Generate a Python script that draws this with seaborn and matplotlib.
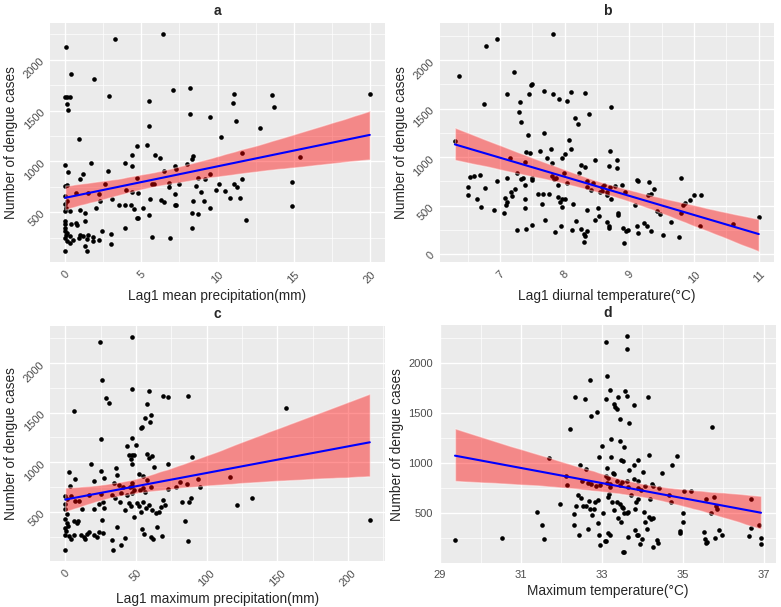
import matplotlib
matplotlib.use("Agg")
import matplotlib.pyplot as plt
import seaborn as sns
from matplotlib.ticker import AutoMinorLocator

# panel a: lag1 mean precipitation vs cases
a_x = [0.07, 3.3, 6.4, 0.4, 1.9, 0.0, 0.15, 0.3, 0.1, 0.2,
       2.9, 7.1, 8.2, 5.5, 8.2, 5.5, 9.5, 11.1, 11.0, 11.2,
       13.6, 13.7, 12.8, 20.0, 0.9, 10.2, 4.7, 5.4, 4.4, 5.9,
       6.2, 8.4, 8.3, 1.7, 0.0, 3.9, 8.0, 4.4, 11.6, 15.4,
       7.2, 7.3, 2.8, 0.2, 6.5, 1.2, 1.0, 4.7, 8.7, 9.5,
       9.2, 14.9, 0.1, 0.0, 2.6, 1.5, 2.2, 0.7, 6.8, 5.7,
       5.8, 6.8, 7.5, 8.6, 10.1, 11.1, 11.3, 11.6, 10.5, 8.9,
       9.9, 4.0, 4.4, 4.8, 7.2, 5.6, 6.3, 6.5, 8.4, 9.1,
       10.8, 11.5, 0.0, 0.1, 0.0, 0.07, 0.0, 0.3, 3.1, 2.3,
       3.5, 3.9, 4.3, 4.5, 5.1, 7.2, 7.3, 2.0, 1.0, 1.3,
       9.5, 8.3, 8.7, 4.7, 4.8, 5.5, 14.9, 11.9, 1.3, 0.4,
       0.7, 0.8, 3.9, 8.3, 0.0, 0.0, 0.0, 0.0, 0.07, 0.0,
       0.1, 0.15, 0.3, 1.0, 1.2, 1.4, 0.9, 1.5, 1.8, 2.4,
       3.0, 2.2, 1.8, 3.0, 1.3, 1.4, 0.0, 5.7, 6.9, 0.5, 0.3]
a_y = [2130, 2200, 2254, 1858, 1815, 1634, 1634, 1634, 1560, 1508,
       1643, 1706, 1726, 1590, 1462, 1350, 1435, 1660, 1574, 1396,
       1650, 1535, 1333, 1660, 1221, 1238, 1155, 1165, 1066, 1066,
       1033, 1056, 1023, 983, 964, 980, 974, 957, 1079, 1046,
       950, 930, 907, 891, 901, 874, 825, 835, 841, 874,
       831, 799, 769, 759, 775, 693, 676, 693, 792, 775,
       775, 749, 775, 759, 775, 775, 749, 828, 709, 700,
       719, 719, 703, 693, 676, 627, 617, 604, 610, 610,
       643, 637, 660, 610, 577, 545, 512, 512, 627, 610,
       571, 571, 571, 528, 545, 571, 571, 545, 518, 495,
       538, 488, 479, 445, 445, 472, 561, 419, 412, 386,
       396, 373, 340, 346, 412, 380, 346, 314, 280, 247,
       214, 297, 264, 280, 264, 241, 247, 280, 254, 314,
       290, 231, 214, 191, 165, 115, 115, 254, 247, 231, 198]

# panel b: lag1 diurnal temperature vs cases
b_x = [6.95, 6.78, 7.82, 6.37, 7.22, 6.75, 7.10, 7.31, 7.29, 7.32,
       7.47, 7.50, 7.44, 7.68, 7.82, 7.91, 8.04, 8.10, 8.31, 8.71,
       8.15, 8.20, 8.37, 7.43, 7.68, 6.30, 8.06, 7.40, 7.46, 7.61,
       7.78, 8.09, 8.00, 7.96, 7.73, 7.15, 7.39, 7.80, 8.70, 8.81,
       8.68, 8.81, 8.25, 8.31, 8.47, 8.22, 7.98, 7.26, 7.35, 7.32,
       6.54, 6.60, 6.69, 6.95, 7.11, 7.50, 7.80, 7.84, 7.87, 8.03,
       7.90, 8.35, 8.44, 8.35, 8.57, 8.61, 8.70, 8.77, 8.88, 9.11,
       9.13, 9.30, 9.38, 9.80, 7.49, 6.50, 6.77, 7.23, 7.17, 7.19,
       7.39, 7.39, 7.07, 7.10, 7.09, 6.50, 6.64, 7.58, 7.67, 7.76,
       7.64, 7.90, 7.95, 8.00, 7.92, 7.95, 8.13, 8.41, 8.57, 8.55,
       8.65, 8.66, 8.35, 8.52, 8.71, 8.93, 9.08, 9.29, 9.34, 9.43,
       9.47, 9.65, 9.83, 9.86, 9.80, 9.93, 10.0, 10.10, 10.09, 10.60,
       11.0, 6.71, 6.91, 7.38, 7.06, 7.40, 7.26, 7.49, 7.70, 7.85,
       7.94, 8.11, 8.18, 8.25, 8.30, 8.31, 8.29, 8.35, 8.46, 8.53,
       8.65, 8.68, 8.69, 8.83, 8.82, 8.90, 8.94, 8.97, 8.91, 9.11,
       9.13, 9.23, 9.27, 9.34, 9.52, 9.77]
b_y = [2218, 2147, 2271, 1833, 1876, 1549, 1652, 1573, 1470, 1363,
       1744, 1759, 1648, 1680, 1655, 1602, 1584, 1673, 1666, 1520,
       1406, 1346, 1442, 1228, 1253, 1164, 1175, 1050, 1040, 1068,
       1086, 1079, 1032, 990, 990, 986, 950, 943, 1068, 972,
       911, 883, 915, 901, 972, 837, 837, 837, 783, 772,
       790, 801, 819, 758, 783, 783, 801, 776, 783, 730,
       712, 755, 737, 694, 694, 712, 694, 701, 712, 765,
       755, 740, 666, 783, 765, 694, 683, 676, 641, 595,
       712, 570, 577, 534, 509, 612, 570, 623, 623, 616,
       516, 587, 570, 570, 534, 488, 516, 659, 648, 641,
       641, 605, 452, 480, 570, 641, 505, 605, 623, 445,
       416, 327, 509, 523, 427, 562, 605, 605, 292, 306,
       381, 484, 456, 480, 420, 256, 249, 295, 356, 228,
       285, 249, 345, 256, 206, 185, 121, 242, 356, 392,
       327, 285, 267, 399, 420, 267, 238, 249, 114, 292,
       221, 320, 285, 238, 196, 171]

# panel c: lag1 maximum precipitation vs cases
c_x = [24.5, 47.1, 26.2, 47.6, 28.6, 31.0, 59.5, 69.0, 72.6, 86.9,
       156.4, 57.6, 56.4, 54.0, 53.6, 60.7, 60.0, 6.0, 25.2, 47.6,
       50.2, 44.0, 45.2, 47.6, 48.8, 46.4, 47.1, 57.9, 61.4, 59.5,
       62.6, 72.6, 89.8, 18.3, 2.4, 25.0, 27.4, 20.7, 36.2, 36.4,
       6.7, 3.6, 34.5, 38.1, 41.0, 39.3, 47.6, 47.1, 46.0, 48.8,
       47.6, 52.6, 54.8, 56.2, 52.4, 54.8, 57.6, 60.7, 72.6, 81.0,
       78.6, 86.2, 93.6, 95.2, 116.7, 89.3, 82.9, 121.4, 132.1, 215.5,
       0.0, 1.2, 0.0, 0.0, 1.2, 0.0, 1.2, 0.0, 0.7, 0.0,
       2.4, 0.0, 4.3, 6.7, 9.5, 6.0, 8.8, 11.9, 17.1, 25.5,
       26.9, 23.8, 27.4, 26.2, 20.2, 33.3, 35.2, 38.6, 44.0, 44.8,
       46.4, 42.4, 50.5, 52.4, 53.6, 54.8, 59.5, 57.1, 61.4, 64.3,
       66.7, 67.9, 69.5, 70.7, 84.5, 87.4, 48.8, 1.9, 8.3, 11.2,
       13.1, 16.7, 15.5, 20.2, 22.6, 23.8, 26.9, 14.3, 36.9, 32.9,
       33.8, 39.3, 42.1, 54.3, 56.0, 60.7, 62.4, 68.6, 65.0, 86.9, 6.0, 4.3]
c_y = [2217, 2268, 1828, 1737, 1652, 1594, 1720, 1665, 1659, 1672,
       1550, 1584, 1449, 1354, 1347, 1473, 1408, 1517, 1236, 1246,
       1171, 1161, 1076, 1070, 1070, 1032, 985, 1083, 1060, 1043,
       951, 982, 1053, 985, 900, 914, 839, 812, 941, 873,
       833, 762, 789, 772, 751, 687, 789, 765, 751, 721,
       694, 718, 738, 704, 883, 866, 816, 755, 728, 802,
       755, 782, 833, 748, 846, 636, 602, 569, 643, 416,
       660, 626, 575, 524, 474, 423, 389, 338, 304, 270,
       253, 118, 660, 609, 609, 406, 406, 524, 670, 677,
       602, 575, 535, 416, 524, 670, 636, 602, 670, 585,
       562, 518, 592, 562, 501, 596, 569, 535, 518, 484,
       501, 552, 619, 569, 406, 602, 450, 359, 382, 264,
       247, 298, 271, 264, 247, 298, 288, 223, 349, 213,
       112, 169, 237, 322, 274, 247, 223, 254, 349, 203, 264, 230]

# panel d: maximum temperature vs cases
d_x = [33.61, 33.11, 33.63, 33.13, 32.71, 33.19, 33.58, 33.61, 32.34, 32.59,
       33.11, 33.39, 34.13, 33.30, 33.32, 33.36, 33.80, 32.88, 32.72, 32.22,
       33.44, 33.67, 35.73, 33.22, 33.44, 33.54, 33.01, 34.17, 34.86, 31.70,
       32.92, 33.22, 33.47, 33.51, 33.90, 34.73, 32.46, 32.61, 33.13, 33.80,
       33.68, 34.48, 34.01, 33.28, 33.29, 33.36, 33.49, 33.61, 33.80, 33.88,
       33.09, 33.15, 33.13, 32.11, 32.14, 32.50, 32.65, 32.74, 32.85, 32.96,
       33.19, 33.44, 33.65, 33.88, 34.07, 34.23, 34.26, 34.40, 34.65, 34.71,
       35.02, 35.19, 35.56, 35.77, 35.81, 35.84, 35.69, 36.68, 36.89, 36.68,
       32.41, 32.49, 32.35, 32.53, 32.61, 32.68, 32.82, 32.90, 32.71, 32.75,
       32.32, 32.32, 32.43, 32.65, 32.90, 33.15, 33.18, 33.19, 33.26, 33.36,
       33.44, 33.49, 33.53, 33.55, 33.65, 33.63, 33.40, 33.46, 33.30, 33.71,
       33.83, 33.90, 33.96, 34.19, 33.82, 34.04, 34.07, 34.17, 34.22, 34.27,
       33.03, 32.80, 33.15, 32.93, 33.19, 33.07, 33.11, 32.96, 33.65, 33.86,
       33.90, 33.98, 33.93, 33.82, 34.12, 34.36, 34.38, 34.27, 33.51, 33.54,
       34.92, 34.94, 35.00, 35.00, 35.52, 35.54, 35.59, 35.56, 35.79, 35.89,
       35.96, 36.64, 36.92, 36.93, 31.39, 31.53, 31.57, 31.97, 30.54, 29.37]
d_y = [2270, 2214, 2146, 1870, 1831, 1734, 1718, 1669, 1662, 1646,
       1646, 1662, 1659, 1594, 1565, 1546, 1581, 1513, 1468, 1344,
       1442, 1403, 1360, 1240, 1224, 1166, 1172, 1085, 1075, 1052,
       1068, 1059, 1036, 1020, 1029, 987, 987, 948, 955, 981,
       938, 906, 912, 906, 890, 825, 815, 825, 841, 825,
       873, 857, 808, 873, 782, 825, 808, 792, 776, 786,
       792, 782, 760, 750, 776, 792, 770, 750, 685, 614,
       727, 727, 646, 662, 575, 549, 500, 640, 386, 354,
       685, 656, 575, 575, 575, 620, 614, 630, 549, 484,
       490, 386, 289, 347, 409, 662, 695, 760, 614, 614,
       597, 565, 555, 500, 516, 500, 458, 419, 532, 685,
       614, 640, 734, 646, 549, 516, 419, 468, 445, 451,
       500, 549, 305, 289, 282, 224, 224, 185, 266, 282,
       282, 240, 192, 338, 344, 230, 208, 169, 110, 110,
       321, 305, 500, 419, 312, 240, 218, 208, 256, 331,
       289, 273, 256, 198, 510, 386, 247, 597, 250, 230]

titles = ["a", "b", "c", "d"]
xlabels = ["Lag1 mean precipitation(mm)", "Lag1 diurnal temperature(°C)",
           "Lag1 maximum precipitation(mm)", "Maximum temperature(°C)"]
ylabel = "Number of dengue cases"
xticks = [[0, 5, 10, 15, 20], [7, 8, 9, 10, 11],
          [0, 50, 100, 150, 200], [29, 31, 33, 35, 37]]
yticks = [[500, 1000, 1500, 2000], [0, 500, 1000, 1500, 2000],
          [500, 1000, 1500, 2000], [500, 1000, 1500, 2000]]

sns.set_theme(style="darkgrid", rc={"axes.facecolor": "#EBEBEB", "grid.color": "white"})
plt.rcParams["font.family"] = ["Liberation Sans", "DejaVu Sans"]

fig = plt.figure(figsize=(7.81, 6.07), dpi=100)
positions = [[0.064, 0.568, 0.429, 0.394], [0.563, 0.568, 0.428, 0.394],
             [0.064, 0.076, 0.429, 0.387], [0.563, 0.072, 0.431, 0.392]]
data = [(a_x, a_y), (b_x, b_y), (c_x, c_y), (d_x, d_y)]

for i, (xs, ys) in enumerate(data):
    ax = fig.add_axes(positions[i])
    sns.scatterplot(x=xs, y=ys, ax=ax, color="black", s=11, linewidth=0)
    sns.regplot(x=xs, y=ys, ax=ax, scatter=False, seed=0,
                line_kws={"color": "blue", "lw": 1.5})
    # ggplot-style red confidence band
    band = ax.collections[-1]
    band.set_facecolor("red")
    band.set_alpha(0.42)

    ax.set_xticks(xticks[i])
    ax.set_yticks(yticks[i])
    ax.xaxis.set_minor_locator(AutoMinorLocator(2))
    ax.yaxis.set_minor_locator(AutoMinorLocator(2))
    ax.grid(which="major", color="white", lw=1.0)
    ax.grid(which="minor", color="white", lw=0.5)
    ax.tick_params(which="major", length=3, width=0.6, color="#333333",
                   labelsize=8, labelcolor="#4D4D4D", pad=2)
    ax.tick_params(which="minor", length=0)
    for s in ax.spines.values():
        s.set_visible(False)

    if i < 3:
        for lab in ax.get_yticklabels():
            lab.set_rotation(45)
            lab.set_rotation_mode("anchor")
            lab.set_ha("right")
            lab.set_va("center")
        for lab in ax.get_xticklabels():
            lab.set_rotation(45)
            lab.set_ha("center")

    ax.set_title(titles[i], fontsize=10, fontweight="bold", pad=6)
    ax.set_xlabel(xlabels[i], fontsize=9.8, labelpad=3)
    ax.set_ylabel(ylabel, fontsize=9.8, labelpad=3)

fig.savefig("out.png", dpi=100)
